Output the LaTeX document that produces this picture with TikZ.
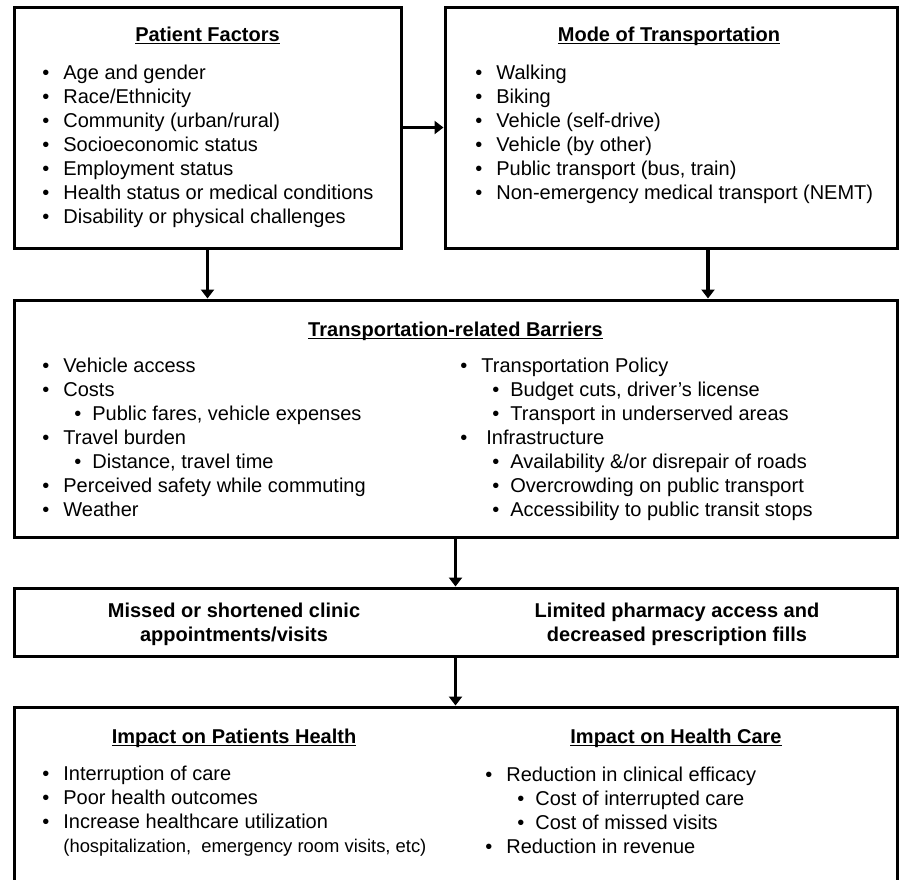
\documentclass[tikz,border=0pt]{standalone}
\usepackage{fontspec}
\setmainfont{Liberation Sans}
\usepackage{tikz}
\usetikzlibrary{positioning,arrows.meta}

\newcommand{\headline}[1]{\textbf{\underline{\smash{#1}}}}
\newcommand{\itm}{\makebox[10.5pt][l]{\textbullet}}
\newcommand{\subitm}{\hspace*{16pt}\makebox[9pt][l]{\textbullet}}

\begin{document}
\begin{tikzpicture}[x=0.5pt, y=-0.5pt,
    box/.style={draw, line width=1.5pt, inner sep=0pt},
    head/.style={anchor=base, inner sep=0pt, font=\fontsize{10pt}{12pt}\selectfont},
    list/.style={anchor=base west, align=left, inner sep=0pt, font=\fontsize{10pt}{12pt}\selectfont},
    flow/.style={line width=1.8pt, -{Triangle[width=6.5pt, length=4.5pt]}}]

    % Fix picture size
    \useasboundingbox (0,0) rectangle (899,879);
    \clip (0,0) rectangle (899,879);

    % Draw boxes
    \node[box, minimum width=193.5pt, minimum height=120.5pt] (patient) at (207.5,127.5) {};
    \node[box, minimum width=226pt, minimum height=120.5pt] (mode) at (671,127.5) {};
    \node[box, minimum width=441.5pt, minimum height=118.5pt] (barriers) at (455.5,418.5) {};
    \node[box, minimum width=441.5pt, minimum height=34pt] (outcomes) at (455.5,622) {};
    \node[box, minimum width=441.5pt, minimum height=93pt] (impact) at (455.5,800) {};

    % Patient factors (lists sit on their last baseline)
    \node[head] (patienttitle) at (207.5,41) {\headline{Patient Factors}};
    \node[list] (patientlist) at (42,223) {\itm Age and gender\\
        \itm Race/Ethnicity\\
        \itm Community (urban/rural)\\
        \itm Socioeconomic status\\
        \itm Employment status\\
        \itm Health status or medical conditions\\
        \itm Disability or physical challenges};

    % Mode of transportation
    \node[head] (modetitle) at (669,41) {\headline{Mode of Transportation}};
    \node[list] (modelist) at (475,199) {\itm Walking\\
        \itm Biking\\
        \itm Vehicle (self-drive)\\
        \itm Vehicle (by other)\\
        \itm Public transport (bus, train)\\
        \itm Non-emergency medical transport (NEMT)};

    % Barriers
    \node[head] (barrierstitle) at (455.5,336) {\headline{Transportation-related Barriers}};
    \node[list] (barriersleft) at (42,516) {\itm Vehicle access\\
        \itm Costs\\
        \subitm Public fares, vehicle expenses\\
        \itm Travel burden\\
        \subitm Distance, travel time\\
        \itm Perceived safety while commuting\\
        \itm Weather};
    \node[list] (barriersright) at (460,516) {\itm Transportation Policy\\
        \subitm Budget cuts, driver’s license\\
        \subitm Transport in underserved areas\\
        \itm\hspace*{2.5pt}Infrastructure\\
        \subitm Availability \&/or disrepair of roads\\
        \subitm Overcrowding on public transport\\
        \subitm Accessibility to public transit stops};

    % Outcomes
    \node[head, align=center] (missed) at (234,641) {\textbf{Missed or shortened clinic}\\\textbf{appointments/visits}};
    \node[head, align=center] (pharmacy) at (677,641) {\textbf{Limited pharmacy access and}\\\textbf{decreased prescription fills}};

    % Impact
    \node[head] (healthtitle) at (234,743) {\headline{Impact on Patients Health}};
    \node[list] (healthlist) at (42,852) {\itm Interruption of care\\
        \itm Poor health outcomes\\
        \itm Increase healthcare utilization\\
        \hspace*{10.5pt}{\fontsize{9.2pt}{11.5pt}\selectfont (hospitalization,\ \ emergency room visits, etc)}};
    \node[head] (caretitle) at (676,743) {\headline{Impact on Health Care}};
    \node[list] (carelist) at (485,853) {\itm Reduction in clinical efficacy\\
        \subitm Cost of interrupted care\\
        \subitm Cost of missed visits\\
        \itm Reduction in revenue};

    % Draw arrows
    \draw[flow] (patient.east) -- (mode.west);
    \draw[flow] (patient.south) -- (patient.south |- barriers.north);
    \draw[flow] ([xshift=18.5pt]mode.south) -- ([xshift=18.5pt]mode.south |- barriers.north);
    \draw[flow] (barriers.south) -- (outcomes.north);
    \draw[flow] (outcomes.south) -- (impact.north);
\end{tikzpicture}
\end{document}
